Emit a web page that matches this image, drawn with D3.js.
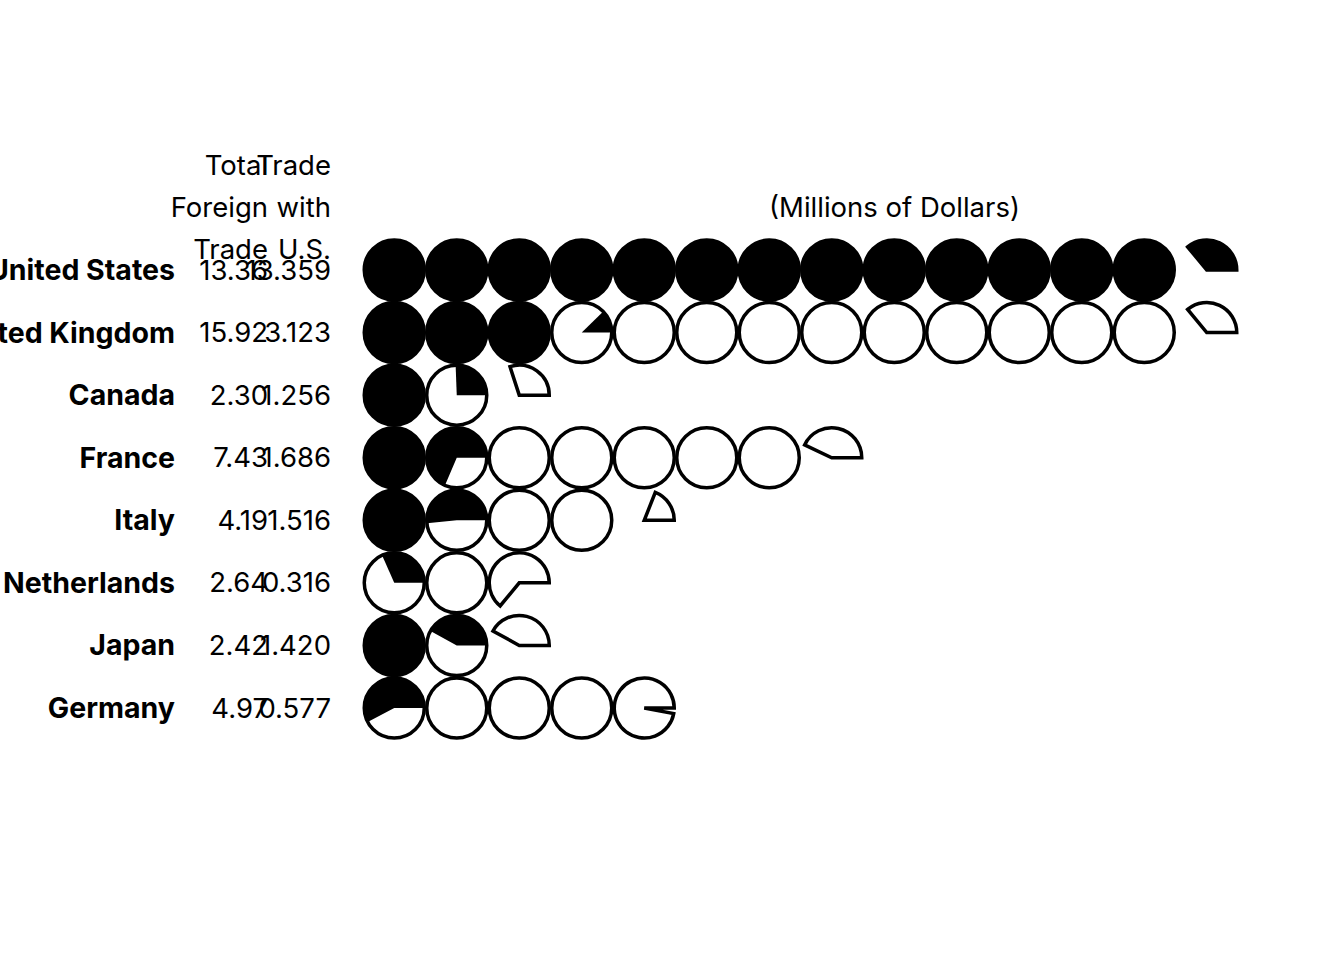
<!DOCTYPE html>
<html><head><meta charset="utf-8">
<script src="https://cdn.jsdelivr.net/npm/d3@7"></script>
<style>body{margin:0;background:#fff}</style></head>
<body>
<svg id="chart" width="1344" height="960"></svg>
<script>
// ---- data ----
const countries = ["United States","United Kingdom","Canada","France","Italy","Netherlands","Japan","Germany"];
const totalTrade = [13.36, 15.92, 2.30, 7.43, 4.19, 2.64, 2.42, 4.97];
const usTrade = [13.359, 3.123, 1.256, 1.686, 1.516, 0.316, 1.420, 0.577];
const headerTotal = ["Total", "Foreign", "Trade"];
const headerUS = ["Trade", "with", "U.S."];
const unitLabel = "(Millions of Dollars)";

// ---- layout ----
const svg = d3.select("#chart");
const font = "Inter, 'Noto Sans', sans-serif";
const fsReg = 27.5, fsBold = 28.5;
const step = 62.5, r = 30, sw = 3.5;
const cap = totalTrade[0];
const x = d3.scaleLinear().domain([0, cap]).range([363, 363 + cap * step]);
const y = d3.scaleBand().domain(countries).range([238.7, 739.3]);
const yc = c => y(c) + y.bandwidth() / 2;
const colTotal = 268, colUS = 331;

const arc = f => d3.arc().innerRadius(0).outerRadius(r)
  .startAngle(Math.PI / 2 - f * 2 * Math.PI).endAngle(Math.PI / 2)();

function units(v) {
  const out = [];
  for (let k = 0; k < Math.ceil(v - 1e-9); k++) out.push({k, f: Math.min(1, v - k)});
  return out;
}

// headers
const hdr = (lines, xx) => {
  const t = svg.append("text").attr("font-family", font).attr("font-size", fsReg)
    .attr("text-anchor", "end").attr("fill", "#000");
  lines.forEach((l, i) => t.append("tspan").attr("x", xx).attr("y", 175 + i * 42).text(l));
};
hdr(headerTotal, colTotal);
hdr(headerUS, colUS);
svg.append("text").attr("x", 894.5).attr("y", 217).attr("text-anchor", "middle")
  .attr("font-family", font).attr("font-size", fsReg).text(unitLabel);

const rows = svg.selectAll("g.row").data(countries).join("g").attr("class", "row")
  .attr("transform", c => `translate(0,${yc(c)})`);

rows.append("text").attr("x", 175).attr("dy", "0.35em").attr("text-anchor", "end")
  .attr("font-family", font).attr("font-weight", 700).attr("font-size", fsBold)
  .text(c => c);
rows.append("text").attr("x", colTotal).attr("dy", "0.35em").attr("text-anchor", "end")
  .attr("font-family", font).attr("font-size", fsReg)
  .text((c, i) => d3.format(".2f")(totalTrade[i]));
rows.append("text").attr("x", colUS).attr("dy", "0.35em").attr("text-anchor", "end")
  .attr("font-family", font).attr("font-size", fsReg)
  .text((c, i) => d3.format(".3f")(usTrade[i]));

// outline units (total foreign trade, clamped to scale domain)
rows.each(function (c, i) {
  const g = d3.select(this);
  const shown = Math.min(totalTrade[i], cap);
  units(shown).forEach(u => {
    const cx = x(u.k) + step / 2;
    if (u.f >= 1) {
      g.append("circle").attr("cx", cx).attr("r", r)
        .attr("fill", "#fff").attr("stroke", "#000").attr("stroke-width", sw);
    } else {
      g.append("path").attr("transform", `translate(${cx},0)`).attr("d", arc(u.f))
        .attr("fill", "#fff").attr("stroke", "#000").attr("stroke-width", sw)
        .attr("stroke-linejoin", "miter");
    }
  });
});
// black units (trade with U.S.)
rows.each(function (c, i) {
  const g = d3.select(this);
  units(usTrade[i]).forEach(u => {
    const cx = x(u.k) + step / 2;
    if (u.f >= 1) {
      g.append("circle").attr("cx", cx).attr("r", r).attr("fill", "#000");
    } else {
      g.append("path").attr("transform", `translate(${cx},0)`).attr("d", arc(u.f))
        .attr("fill", "#000");
    }
  });
});
</script></body></html>
